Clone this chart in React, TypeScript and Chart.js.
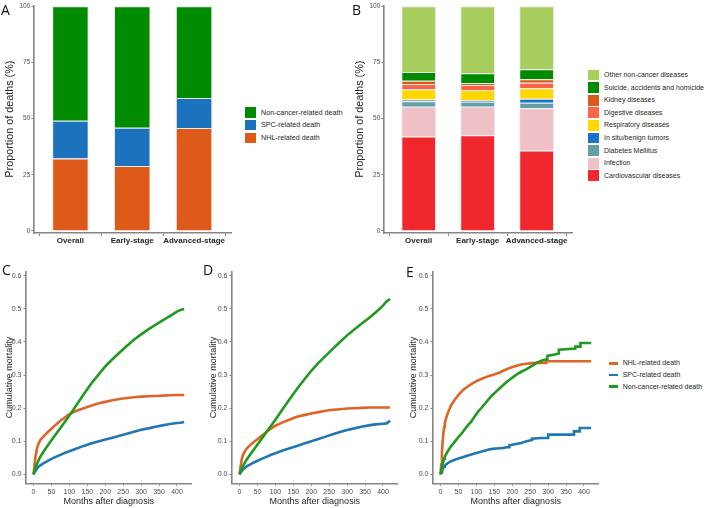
import React, { useEffect, useRef } from "react";
import { Chart, registerables } from "chart.js";

Chart.register(...registerables);

const SANS = '"Liberation Sans", Arial, Helvetica, sans-serif';
const LETTER_FONT = '"Open Sans", "DejaVu Sans", sans-serif';
const AXIS = "#858585";
const TICK_TEXT = "#4d4d4d";
const TITLE_TEXT = "#262626";

Chart.defaults.font.family = SANS;

// ---------- stacked bar panels (A, B) ----------
const groups = ["Overall", "Early-stage", "Advanced-stage"];
const shareTicks = [0, 25, 50, 75, 100];

// A: main cause of death, % of deaths
const nhlShare = [32.3, 28.9, 45.8];
const spcShare = [16.8, 17.1, 13.4];
const nonCancerShare = [50.9, 54.0, 40.8];

// B: non-cancer causes, % of deaths
const cardiovascular = [42.1, 42.6, 35.8];
const infection = [13.2, 12.7, 18.8];
const diabetes = [2.4, 2.2, 2.5];
const inSituTumors = [0.8, 0.8, 1.8];
const respiratory = [4.6, 4.5, 4.6];
const digestive = [2.3, 2.2, 2.5];
const kidney = [1.5, 0.9, 1.5];
const suicideAccidents = [3.9, 4.3, 4.5];
const otherNonCancer = [29.2, 29.8, 28.0];

// ---------- cumulative mortality panels (C, D, E) ----------
const monthTicks = [0, 50, 100, 150, 200, 250, 300, 350, 400];
const mortalityTicks = [0, 0.1, 0.2, 0.3, 0.4, 0.5, 0.6];

const months = [0, 3, 6, 10, 15, 20, 30, 40, 50, 60, 75, 90, 100, 120, 140, 160, 180, 200, 220, 240, 260, 280, 300, 320, 340, 360, 380, 400, 410, 420];

const overallNhl = [0, 0.03, 0.058, 0.08, 0.096, 0.105, 0.117, 0.128, 0.138, 0.148, 0.162, 0.174, 0.182, 0.192, 0.2, 0.207, 0.214, 0.219, 0.224, 0.228, 0.231, 0.233, 0.235, 0.236, 0.237, 0.238, 0.239, 0.24, 0.24, 0.24];
const overallSpc = [0, 0.006, 0.012, 0.018, 0.024, 0.028, 0.035, 0.041, 0.047, 0.052, 0.059, 0.066, 0.07, 0.078, 0.086, 0.093, 0.099, 0.105, 0.111, 0.117, 0.123, 0.129, 0.135, 0.139, 0.144, 0.148, 0.152, 0.155, 0.156, 0.158];
const overallNonCancer = [0, 0.012, 0.022, 0.032, 0.045, 0.055, 0.072, 0.088, 0.103, 0.118, 0.14, 0.163, 0.178, 0.21, 0.242, 0.273, 0.3, 0.326, 0.348, 0.368, 0.388, 0.407, 0.423, 0.438, 0.452, 0.465, 0.478, 0.492, 0.497, 0.5];

const earlyNhl = [0, 0.025, 0.045, 0.06, 0.07, 0.078, 0.089, 0.098, 0.106, 0.115, 0.128, 0.14, 0.147, 0.157, 0.166, 0.174, 0.179, 0.184, 0.188, 0.192, 0.195, 0.197, 0.199, 0.2, 0.201, 0.202, 0.202, 0.202, 0.202, 0.202];
const earlySpc = [0, 0.005, 0.01, 0.015, 0.02, 0.024, 0.03, 0.036, 0.041, 0.046, 0.053, 0.06, 0.064, 0.072, 0.079, 0.086, 0.093, 0.1, 0.107, 0.114, 0.121, 0.128, 0.134, 0.139, 0.144, 0.148, 0.151, 0.153, 0.154, 0.162];
const earlyNonCancer = [0, 0.01, 0.018, 0.026, 0.036, 0.045, 0.06, 0.075, 0.09, 0.105, 0.128, 0.15, 0.165, 0.197, 0.228, 0.258, 0.286, 0.313, 0.337, 0.358, 0.379, 0.4, 0.42, 0.438, 0.455, 0.472, 0.49, 0.51, 0.523, 0.53];

// advanced stage: repeated months mark the visible jumps of the step curves
const advancedNhlMonths = [0, 2, 4, 6, 8, 10, 12, 15, 18, 22, 26, 30, 35, 40, 45, 50, 56, 62, 70, 78, 86, 95, 105, 115, 125, 135, 145, 155, 165, 175, 185, 195, 205, 215, 225, 240, 255, 270, 295, 295, 420];
const advancedNhl = [0, 0.03, 0.07, 0.1, 0.125, 0.143, 0.155, 0.168, 0.178, 0.19, 0.2, 0.21, 0.218, 0.226, 0.233, 0.24, 0.247, 0.254, 0.261, 0.267, 0.273, 0.279, 0.284, 0.289, 0.293, 0.297, 0.3, 0.304, 0.308, 0.313, 0.318, 0.322, 0.326, 0.329, 0.332, 0.334, 0.336, 0.337, 0.337, 0.342, 0.342];

const advancedSpcMonths = [0, 2, 4, 6, 8, 10, 12, 15, 18, 22, 26, 30, 35, 40, 45, 50, 56, 62, 70, 78, 86, 95, 105, 115, 125, 135, 145, 155, 165, 175, 185, 192, 192, 210, 225, 240, 255, 255, 280, 300, 300, 372, 372, 388, 388, 420];
const advancedSpc = [0, 0.006, 0.011, 0.016, 0.02, 0.023, 0.026, 0.029, 0.032, 0.035, 0.038, 0.04, 0.042, 0.044, 0.046, 0.048, 0.05, 0.052, 0.055, 0.058, 0.06, 0.063, 0.066, 0.069, 0.072, 0.075, 0.077, 0.078, 0.079, 0.08, 0.082, 0.082, 0.088, 0.092, 0.095, 0.1, 0.104, 0.108, 0.11, 0.11, 0.12, 0.12, 0.13, 0.13, 0.14, 0.14];

const advancedNonCancerMonths = [0, 2, 4, 6, 8, 10, 12, 15, 18, 22, 26, 30, 35, 40, 45, 50, 56, 62, 70, 78, 86, 95, 105, 115, 125, 135, 145, 155, 165, 175, 185, 195, 205, 215, 225, 240, 255, 270, 285, 298, 298, 318, 330, 330, 376, 376, 390, 390, 420];
const advancedNonCancer = [0, 0.012, 0.022, 0.032, 0.04, 0.047, 0.053, 0.06, 0.066, 0.073, 0.08, 0.086, 0.092, 0.099, 0.106, 0.113, 0.12, 0.128, 0.14, 0.15, 0.16, 0.175, 0.19, 0.202, 0.215, 0.228, 0.24, 0.25, 0.26, 0.27, 0.28, 0.288, 0.296, 0.304, 0.31, 0.318, 0.328, 0.338, 0.345, 0.348, 0.358, 0.362, 0.365, 0.377, 0.38, 0.386, 0.386, 0.397, 0.397];

// ---------- series definitions ----------
type BarSeries = { label: string; values: number[]; color: string };
type Curve = { label: string; months: number[]; values: number[]; color: string };

const NHL_COLOR = "#DE5A1B";
const SPC_COLOR = "#1C72BC";
const NONCANCER_COLOR = "#008B00";

const CURVE_NHL = "#DC6527";
const CURVE_SPC = "#1F77B4";
const CURVE_NONCANCER = "#1E9A1E";

const panelASeries: BarSeries[] = [
  { label: "NHL-related death", values: nhlShare, color: NHL_COLOR },
  { label: "SPC-related death", values: spcShare, color: SPC_COLOR },
  { label: "Non-cancer-related death", values: nonCancerShare, color: NONCANCER_COLOR },
];

const panelBSeries: BarSeries[] = [
  { label: "Cardiovascular diseases", values: cardiovascular, color: "#F0282D" },
  { label: "Infection", values: infection, color: "#EFC0C6" },
  { label: "Diabetes Mellitus", values: diabetes, color: "#649FA8" },
  { label: "In situ/benign tumors", values: inSituTumors, color: "#1874CD" },
  { label: "Respiratory diseases", values: respiratory, color: "#FFD800" },
  { label: "Digestive diseases", values: digestive, color: "#FF6347" },
  { label: "Kidney diseases", values: kidney, color: "#D95B1C" },
  { label: "Suicide, accidents and homicide", values: suicideAccidents, color: "#008B00" },
  { label: "Other non-cancer diseases", values: otherNonCancer, color: "#A8CF5E" },
];

const curveLabels = ["NHL-related death", "SPC-related death", "Non-cancer-related death"];
const curveColors = [CURVE_NHL, CURVE_SPC, CURVE_NONCANCER];

function curves(monthSets: number[][], sets: number[][]): Curve[] {
  return sets.map((values, k) => ({ label: curveLabels[k], months: monthSets[k], values, color: curveColors[k] }));
}

const overallCurves = curves([months, months, months], [overallNhl, overallSpc, overallNonCancer]);
const earlyCurves = curves([months, months, months], [earlyNhl, earlySpc, earlyNonCancer]);
const advancedCurves = curves(
  [advancedNhlMonths, advancedSpcMonths, advancedNonCancerMonths],
  [advancedNhl, advancedSpc, advancedNonCancer]
);

// ---------- chart configs ----------
const axisGrid = { display: true, drawOnChartArea: false, drawTicks: true, tickLength: 2.5, color: AXIS, lineWidth: 1 };
const axisBorder = { display: true, color: AXIS, width: 1.6 };

function barConfig(series: BarSeries[], padRight: number): any {
  return {
    type: "bar",
    data: {
      datasets: series.map((s) => ({
        label: s.label,
        data: s.values.map((v, i) => ({ x: i + 1, y: v })),
        backgroundColor: s.color,
        borderColor: "#e9e9e9",
        borderWidth: 1,
        barPercentage: 0.59,
        categoryPercentage: 1,
      })),
    },
    options: {
      animation: false,
      responsive: false,
      maintainAspectRatio: false,
      events: [],
      layout: { padding: { left: 0, top: 5.3, right: padRight, bottom: 0 } },
      plugins: { legend: { display: false }, tooltip: { enabled: false } },
      scales: {
        x: {
          type: "linear",
          stacked: true,
          offset: false,
          min: 0.4,
          max: 3.6,
          afterBuildTicks: (s: any) => {
            s.ticks = groups.map((_, i) => ({ value: i + 1 }));
          },
          afterFit: (s: any) => {
            s.height = 17;
          },
          ticks: {
            callback: (v: number) => groups[Math.round(v) - 1] ?? "",
            font: { family: SANS, size: 8, weight: "bold" },
            color: TITLE_TEXT,
            padding: 0,
            maxRotation: 0,
            autoSkip: false,
          },
          grid: { ...axisGrid, tickLength: 3 },
          border: axisBorder,
        },
        y: {
          stacked: true,
          min: -0.9,
          max: 100.45,
          afterBuildTicks: (s: any) => {
            s.ticks = shareTicks.map((v) => ({ value: v }));
          },
          afterFit: (s: any) => {
            s.width = 33.3;
          },
          ticks: { font: { family: SANS, size: 6.5 }, color: TICK_TEXT, padding: 1 },
          grid: { ...axisGrid, tickLength: 2 },
          border: axisBorder,
          title: {
            display: true,
            text: "Proportion of deaths (%)",
            font: { family: SANS, size: 10.8 },
            color: TITLE_TEXT,
            padding: { top: 3.5, bottom: 0 },
          },
        },
      },
    },
  };
}

function curveConfig(set: Curve[], yTitlePad: number): any {
  return {
    type: "line",
    data: {
      datasets: set.map((c, k) => ({
        label: c.label,
        data: c.months.map((m, i) => ({ x: m, y: c.values[i] })),
        borderColor: c.color,
        backgroundColor: c.color,
        borderWidth: 2.6,
        pointRadius: 0,
        tension: 0,
        fill: false,
        order: set.length - 1 - k,
      })),
    },
    options: {
      animation: false,
      responsive: false,
      maintainAspectRatio: false,
      events: [],
      layout: { padding: { left: 0, top: 13.5, right: 8.3, bottom: 0 } },
      plugins: { legend: { display: false }, tooltip: { enabled: false } },
      scales: {
        x: {
          type: "linear",
          min: -21,
          max: 441,
          afterBuildTicks: (s: any) => {
            s.ticks = monthTicks.map((v) => ({ value: v }));
          },
          afterFit: (s: any) => {
            s.height = 24.7;
          },
          ticks: {
            callback: (v: number) => String(v),
            font: { family: SANS, size: 7 },
            color: TICK_TEXT,
            padding: 1.7,
            maxRotation: 0,
            autoSkip: false,
          },
          grid: axisGrid,
          border: axisBorder,
          title: {
            display: true,
            text: "Months after diagnosis",
            font: { family: SANS, size: 9 },
            color: TITLE_TEXT,
            padding: { top: 0, bottom: 0.9 },
          },
        },
        y: {
          type: "linear",
          min: -0.027,
          max: 0.613,
          afterBuildTicks: (s: any) => {
            s.ticks = mortalityTicks.map((v) => ({ value: v }));
          },
          afterFit: (s: any) => {
            s.width = 26;
          },
          ticks: {
            callback: (v: number) => Number(v).toFixed(1),
            font: { family: SANS, size: 7 },
            color: TICK_TEXT,
            padding: 2,
          },
          grid: axisGrid,
          border: axisBorder,
          title: {
            display: true,
            text: "Cumulative mortality",
            font: { family: SANS, size: 9 },
            color: TITLE_TEXT,
            padding: { top: yTitlePad, bottom: 0 },
          },
        },
      },
    },
  };
}

// ---------- components ----------
function ChartBox({ x, y, w, h, make }: { x: number; y: number; w: number; h: number; make: () => any }) {
  const ref = useRef<HTMLCanvasElement>(null);
  useEffect(() => {
    const chart = new Chart(ref.current as HTMLCanvasElement, make());
    return () => chart.destroy();
  }, []);
  return (
    <canvas
      ref={ref}
      width={w}
      height={h}
      style={{ position: "absolute", left: x, top: y, width: w, height: h }}
    />
  );
}

function PanelLetter({ text, x, y }: { text: string; x: number; y: number }) {
  return (
    <div
      style={{
        position: "absolute",
        left: x,
        top: y,
        fontFamily: LETTER_FONT,
        fontSize: 14,
        lineHeight: "14px",
        color: "#111",
      }}
    >
      {text}
    </div>
  );
}

type LegendItem = { label: string; color: string };

function SwatchLegend({
  items,
  keyX,
  firstY,
  step,
  keyW,
  keyH,
  textX,
  fontSize,
}: {
  items: LegendItem[];
  keyX: number;
  firstY: number;
  step: number;
  keyW: number;
  keyH: number;
  textX: number;
  fontSize: number;
}) {
  return (
    <>
      {items.map((it, i) => {
        const cy = firstY + i * step;
        return (
          <React.Fragment key={it.label}>
            <div
              style={{
                position: "absolute",
                left: keyX,
                top: cy - keyH / 2,
                width: keyW,
                height: keyH,
                background: it.color,
              }}
            />
            <div
              style={{
                position: "absolute",
                left: textX,
                top: cy - 6,
                height: 12,
                lineHeight: "12px",
                fontFamily: SANS,
                fontSize,
                color: TITLE_TEXT,
                whiteSpace: "nowrap",
              }}
            >
              {it.label}
            </div>
          </React.Fragment>
        );
      })}
    </>
  );
}

export default function App() {
  const legendA = [...panelASeries].reverse();
  const legendB = [...panelBSeries].reverse();
  const legendE = curveLabels.map((label, k) => ({ label, color: curveColors[k] }));

  return (
    <div
      style={{
        position: "absolute",
        left: 0,
        top: 0,
        width: 709,
        height: 508,
        background: "#ffffff",
        overflow: "hidden",
      }}
    >
      <ChartBox x={0} y={0} w={240} h={250} make={() => barConfig(panelASeries, 8.8)} />
      <ChartBox x={350} y={0} w={230} h={250} make={() => barConfig(panelBSeries, 8)} />
      <ChartBox x={0} y={258} w={200} h={250} make={() => curveConfig(overallCurves, 3.8)} />
      <ChartBox x={205.5} y={258} w={200} h={250} make={() => curveConfig(earlyCurves, 2.1)} />
      <ChartBox x={406.7} y={258} w={200} h={250} make={() => curveConfig(advancedCurves, 1.4)} />

      <SwatchLegend items={legendA} keyX={245} firstY={112.5} step={12.7} keyW={10.7} keyH={10.3} textX={261} fontSize={7.2} />
      <SwatchLegend items={legendB} keyX={588.3} firstY={75} step={12.6} keyW={11} keyH={10.7} textX={604} fontSize={7} />
      <SwatchLegend items={legendE} keyX={609} firstY={363.3} step={11.7} keyW={9} keyH={2.6} textX={622.7} fontSize={7} />

      <PanelLetter text="A" x={1} y={2.6} />
      <PanelLetter text="B" x={352} y={2.6} />
      <PanelLetter text="C" x={2} y={262.6} />
      <PanelLetter text="D" x={203} y={262.6} />
      <PanelLetter text="E" x={406} y={264.6} />
    </div>
  );
}
